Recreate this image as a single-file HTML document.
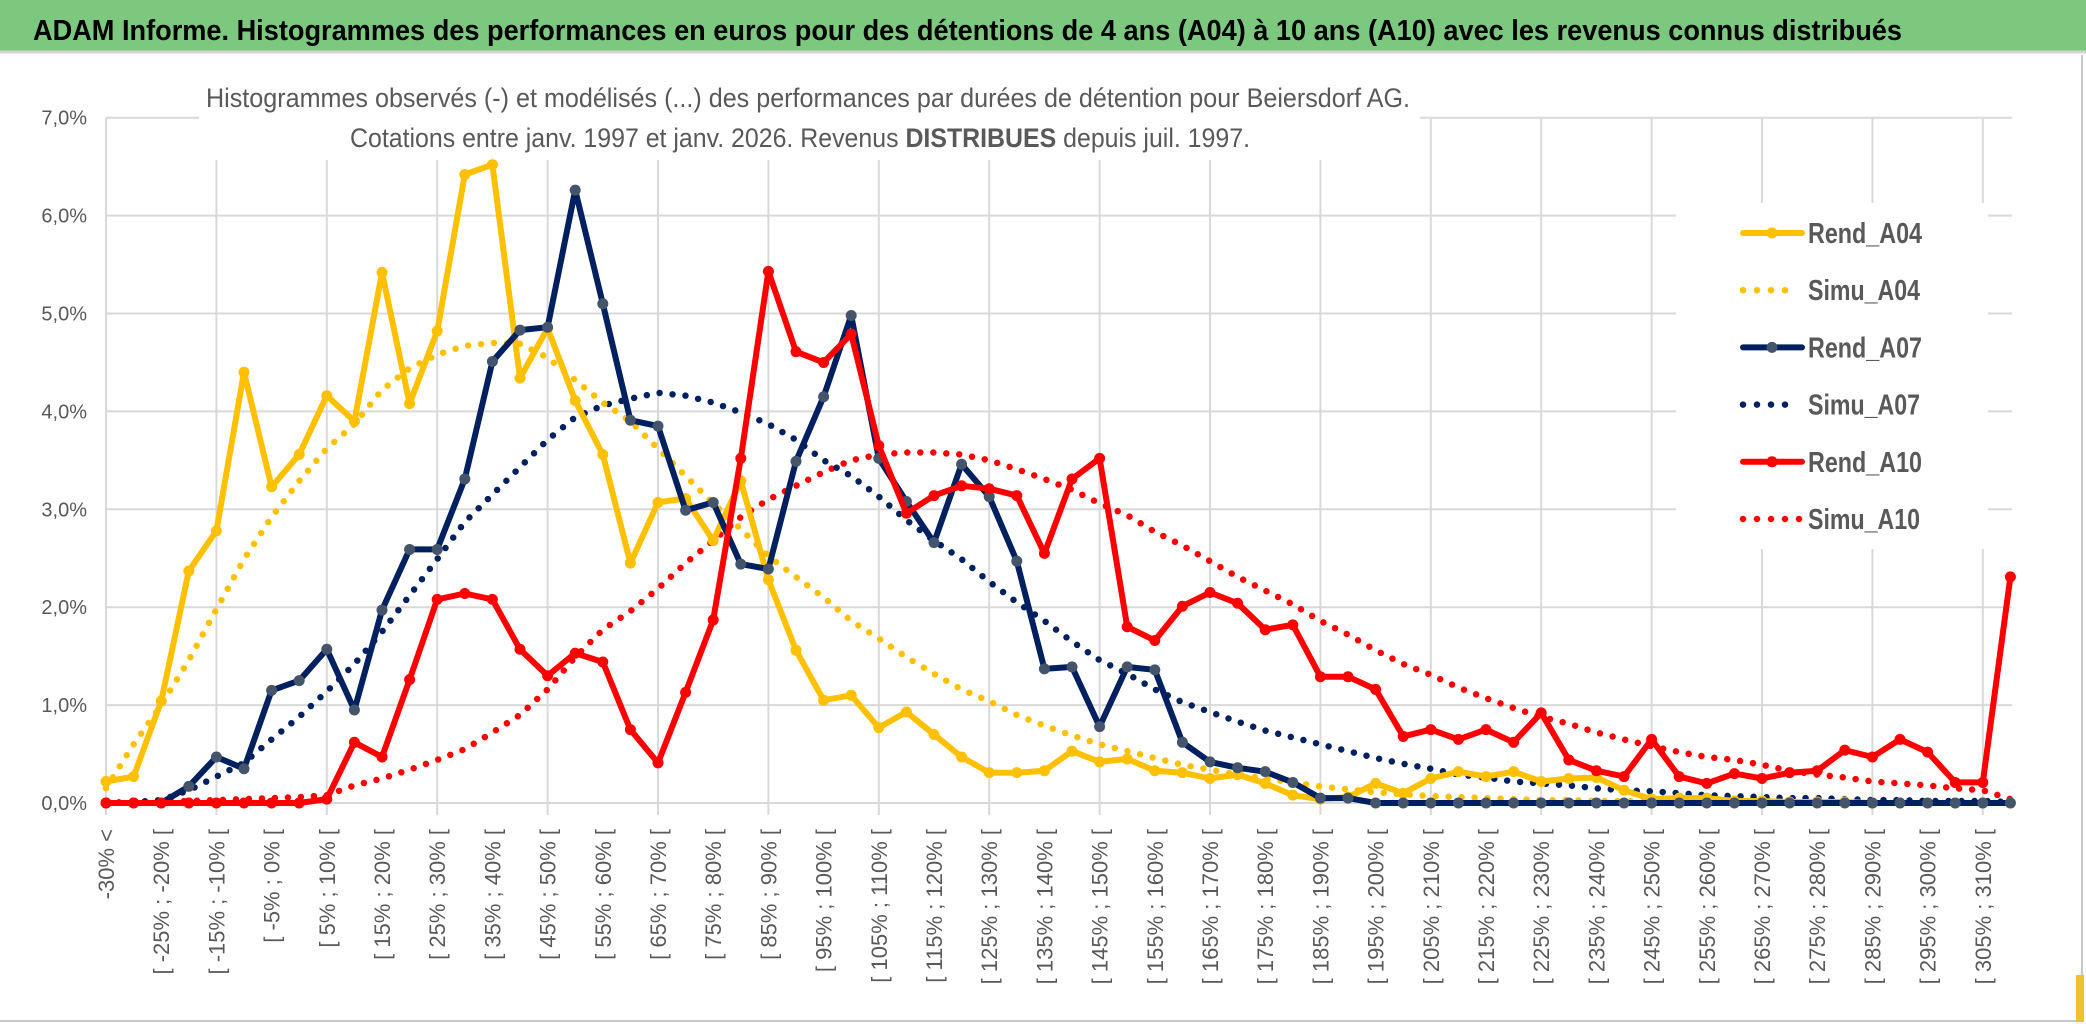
<!DOCTYPE html>
<html><head><meta charset="utf-8"><style>
html,body{margin:0;padding:0;background:#fff;}
svg{display:block;font-family:"Liberation Sans",sans-serif;}
</style></head><body>
<svg id="chart" width="2086" height="1031" viewBox="0 0 2086 1031">
  <rect x="0" y="0" width="2086" height="1031" fill="#ffffff"/>
  <rect x="0" y="0" width="2086" height="51" fill="#7cc87e"/>
  <line x1="0" y1="52" x2="2086" y2="52" stroke="#d4d4d4" stroke-width="3"/>
  <text x="33" y="40" font-size="29" font-weight="bold" fill="#000" textLength="1869" lengthAdjust="spacingAndGlyphs">ADAM Informe. Histogrammes des performances en euros pour des détentions de 4 ans (A04) à 10 ans (A10) avec les revenus connus distribués</text>
  <line x1="2082" y1="55" x2="2082" y2="1022" stroke="#c8c8c8" stroke-width="2"/>
  <line x1="0" y1="1021" x2="2082" y2="1021" stroke="#c8c8c8" stroke-width="2"/>
  <rect x="2076" y="975" width="8" height="47" fill="#f0c030"/>
  <g id="grid"></g>
  <rect x="199" y="60" width="1221" height="100" fill="#fff"/>
  <text x="206" y="107" font-size="27" fill="#595959" textLength="1204" lengthAdjust="spacingAndGlyphs">Histogrammes observés (-) et modélisés (...) des performances par durées de détention pour Beiersdorf AG.</text>
  <text x="350" y="147" font-size="27" fill="#595959" textLength="900" lengthAdjust="spacingAndGlyphs">Cotations entre janv. 1997 et janv. 2026. Revenus <tspan font-weight="bold">DISTRIBUES</tspan> depuis juil. 1997.</text>
  <g id="axes"></g>
  <g id="series"></g>
  <g id="legend"></g>
</svg>
<script>
const categories = (function(){ const c=["-30% <"]; for(let k=1;k<70;k++){ const lo=5*k-35; c.push("[ "+lo+"% ; "+(lo+5)+"% ["); } return c; })();
const yTicks = [0,1,2,3,4,5,6,7];
const yTickLabels = ["0,0%","1,0%","2,0%","3,0%","4,0%","5,0%","6,0%","7,0%"];
const rendA04 = [0.22,0.27,1.04,2.37,2.78,4.40,3.23,3.56,4.16,3.90,5.42,4.08,4.82,6.42,6.52,4.34,4.85,4.11,3.56,2.45,3.07,3.11,2.68,3.29,2.28,1.56,1.05,1.10,0.77,0.93,0.70,0.47,0.31,0.31,0.33,0.53,0.42,0.45,0.33,0.31,0.25,0.29,0.20,0.08,0.04,0.06,0.20,0.10,0.25,0.32,0.27,0.32,0.22,0.25,0.26,0.13,0.04,0.05,0.05,0.02,0.02,0.01,0.01,0.01,0,0,0,0,0,0];
const simuA04 = [0.15,0.6,1.0,1.46,1.98,2.49,2.92,3.29,3.62,3.87,4.22,4.44,4.58,4.67,4.70,4.69,4.55,4.32,4.09,3.90,3.62,3.34,3.06,2.80,2.52,2.31,2.10,1.86,1.68,1.49,1.32,1.16,1.04,0.90,0.79,0.69,0.60,0.53,0.46,0.39,0.34,0.29,0.25,0.21,0.17,0.14,0.11,0.09,0.07,0.06,0.05,0.04,0.03,0.03,0.02,0.02,0.01,0.01,0.01,0.01,0,0,0,0,0,0,0,0,0,0];
const rendA07 = [0,0,0,0.17,0.47,0.35,1.15,1.25,1.57,0.95,1.97,2.59,2.59,3.31,4.51,4.83,4.86,6.26,5.10,3.91,3.85,2.99,3.07,2.44,2.39,3.49,4.15,4.98,3.52,3.08,2.66,3.46,3.13,2.47,1.37,1.39,0.78,1.39,1.36,0.62,0.42,0.36,0.32,0.21,0.05,0.05,0,0,0,0,0,0,0,0,0,0,0,0,0,0,0,0,0,0,0,0,0,0,0,0];
const simuA07 = [0,0.01,0.03,0.13,0.27,0.41,0.65,0.88,1.14,1.42,1.75,2.12,2.49,2.87,3.15,3.43,3.71,3.94,4.06,4.13,4.19,4.16,4.09,3.99,3.87,3.71,3.50,3.34,3.13,2.89,2.68,2.49,2.26,2.05,1.86,1.65,1.46,1.32,1.16,1.03,0.93,0.83,0.74,0.67,0.60,0.53,0.46,0.40,0.35,0.29,0.26,0.22,0.20,0.18,0.15,0.13,0.12,0.10,0.08,0.07,0.06,0.05,0.05,0.04,0.03,0.03,0.02,0.02,0.02,0.01];
const rendA10 = [0,0,0,0,0,0,0,0,0.04,0.62,0.47,1.26,2.08,2.14,2.08,1.57,1.30,1.53,1.44,0.75,0.41,1.13,1.87,3.52,5.43,4.61,4.50,4.79,3.65,2.96,3.14,3.24,3.21,3.14,2.55,3.31,3.52,1.80,1.66,2.01,2.15,2.04,1.77,1.82,1.29,1.29,1.16,0.68,0.75,0.65,0.75,0.62,0.92,0.44,0.33,0.27,0.65,0.27,0.20,0.30,0.25,0.31,0.33,0.54,0.47,0.65,0.52,0.21,0.21,2.31];
const simuA10 = [0,0.01,0.01,0.02,0.03,0.04,0.05,0.06,0.08,0.18,0.25,0.34,0.44,0.55,0.72,0.90,1.16,1.49,1.77,1.96,2.19,2.45,2.68,2.92,3.10,3.24,3.38,3.50,3.56,3.58,3.58,3.56,3.50,3.41,3.31,3.20,3.06,2.94,2.77,2.63,2.47,2.31,2.17,2.03,1.86,1.72,1.56,1.42,1.31,1.18,1.07,0.97,0.88,0.81,0.72,0.65,0.58,0.52,0.47,0.44,0.39,0.33,0.29,0.26,0.22,0.20,0.18,0.15,0.13,0.04];
const seriesNames = ["Rend_A04","Simu_A04","Rend_A07","Simu_A07","Rend_A10","Simu_A10"];

const NS="http://www.w3.org/2000/svg";
const X0=106, X1=2010.4, Y0=803, YPER=97.9;
function xPos(i){ return X0 + (X1-X0)*i/(categories.length-1); }
function yPos(v){ return Y0 - v*YPER; }
function mk(tag, attrs, parent){ const e=document.createElementNS(NS,tag); for(const k in attrs) e.setAttribute(k,attrs[k]); parent.appendChild(e); return e; }

const grid=document.getElementById('grid');
yTicks.forEach(function(t){
  const l=mk('line',{x1:X0,x2:2012,y1:yPos(t),y2:yPos(t),stroke:'#d9d9d9','stroke-width':2},grid);
  
  
});
for(let i=0;i<categories.length;i+=4){
  const l=mk('line',{x1:xPos(i),x2:xPos(i),y1:yPos(7),y2:Y0+12,stroke:'#d9d9d9','stroke-width':2},grid);
  
  
}
const axes=document.getElementById('axes');
yTicks.forEach(function(t,k){
  const tx=mk('text',{x:87,y:yPos(t)+7,'font-size':20,fill:'#595959','text-anchor':'end'},axes);
  tx.textContent=yTickLabels[k];
  
  
});
categories.forEach(function(c,i){
  if(i%2!==0) return;
  const x=xPos(i)+8;
  const tx=mk('text',{x:x,y:829,'font-size':22,fill:'#595959','text-anchor':'end',transform:'rotate(-90 '+x+' 829)'},axes);
  tx.textContent=c;
  
  
});

const sg=document.getElementById('series');
function drawSeries(vals,color,dotted,markerColor,name){
  const g=mk('g',{},sg);
  
  
  const pts=vals.map(function(v,i){ return xPos(i).toFixed(1)+','+yPos(v).toFixed(1); }).join(' ');
  const attrs={points:pts,fill:'none',stroke:color,'stroke-linejoin':'round','stroke-linecap':'round'};
  if(dotted){ attrs['stroke-width']=6.5; attrs['stroke-dasharray']='0 13'; } else { attrs['stroke-width']=6; }
  const pl=mk('polyline',attrs,g);
  
  
  if(!dotted){
    vals.forEach(function(v,i){
      const c=mk('circle',{cx:xPos(i),cy:yPos(v),r:5.5,fill:markerColor},g);
      
      
    });
  }
}
drawSeries(simuA10,'#ff0000',true,null,'simu-a10');
drawSeries(simuA07,'#002060',true,null,'simu-a07');
drawSeries(simuA04,'#ffc000',true,null,'simu-a04');
drawSeries(rendA04,'#ffc000',false,'#ffc000','rend-a04');
drawSeries(rendA07,'#002060',false,'#44546a','rend-a07');
drawSeries(rendA10,'#ff0000',false,'#ff0000','rend-a10');

const lg=document.getElementById('legend');
const lbg=mk('rect',{x:1676,y:203,width:312,height:346,fill:'#fff'},lg);


const legColors=['#ffc000','#ffc000','#002060','#002060','#ff0000','#ff0000'];
const legMarker=['#ffc000',null,'#44546a',null,'#ff0000',null];
seriesNames.forEach(function(n,k){
  const y=233+k*57.2;
  const g=mk('g',{},lg);
  
  
  if(k%2===0){
    mk('line',{x1:1743,x2:1802,y1:y,y2:y,stroke:legColors[k],'stroke-width':6,'stroke-linecap':'round'},g);
    mk('circle',{cx:1772,cy:y,r:5.5,fill:legMarker[k]},g);
  } else {
    mk('line',{x1:1743,x2:k===5?1800:1790,y1:y,y2:y,stroke:legColors[k],'stroke-width':6.5,'stroke-linecap':'round','stroke-dasharray':'0 14'},g);
  }
  const t=mk('text',{x:1808,y:y+10,'font-size':29,'font-weight':'bold',fill:'#595959',textLength:k%2===0?114:112,lengthAdjust:'spacingAndGlyphs'},g);
  t.textContent=n;
});
</script>
</body></html>
